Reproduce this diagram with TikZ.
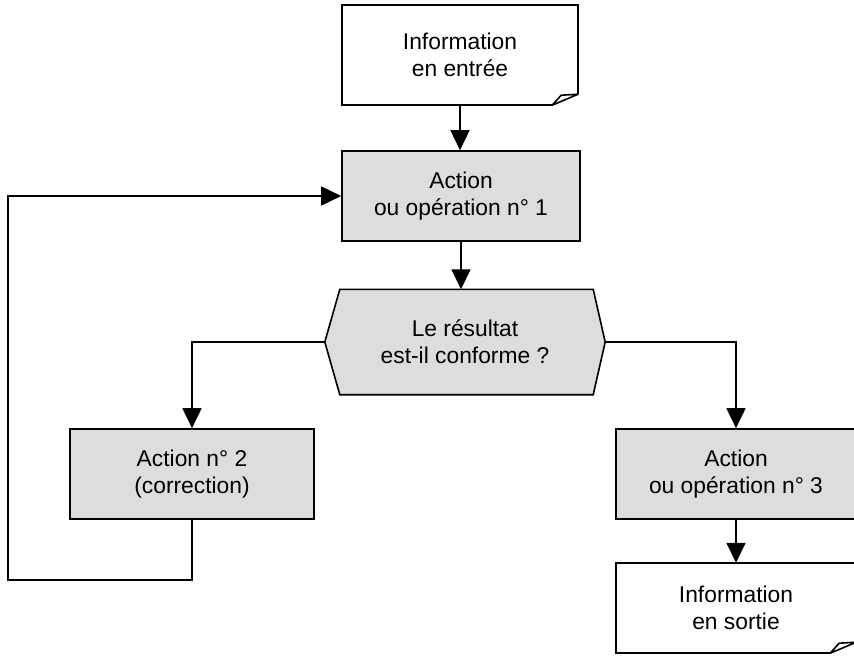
\documentclass[tikz,border=0pt]{standalone}
\usepackage{fontspec}
\setmainfont{Liberation Sans}
\usetikzlibrary{arrows.meta,calc,backgrounds}
\definecolor{boxgray}{RGB}{221,221,221}
\begin{document}
\begin{tikzpicture}[x=1pt,y=-1pt,
  every node/.style={font=\fontsize{22.8pt}{27pt}\selectfont, align=center, inner sep=0pt},
  actbox/.style={draw, line width=1.6pt, fill=boxgray, minimum width=240pt, minimum height=90pt},
  docbox/.style={minimum width=236pt, minimum height=100pt},
  hexbox/.style={minimum width=280pt, minimum height=105pt},
  outline/.style={line width=1.6pt},
  link/.style={line width=1.6pt, -{Triangle[length=20pt,width=19pt]}}]
\useasboundingbox (0,0) rectangle (854,664);

% nodes
\node[docbox] (in) at (460,55) {Information\\en entrée};
\node[actbox, minimum width=238pt] (a1) at (461,196) {Action\\ou opération n° 1};
\node[hexbox] (test) at (465,342) {Le résultat\\est-il conforme ?};
\node[actbox, minimum width=244pt] (a2) at (192,474) {Action n° 2\\(correction)};
\node[actbox] (a3) at (736,474) {Action\\ou opération n° 3};
\node[docbox, minimum width=240pt, minimum height=90pt] (out) at (736,608) {Information\\en sortie};

% outlines drawn behind the texts
\begin{scope}[on background layer]
  % document shapes with a curled lower right corner
  \foreach \d in {in,out}{
    \fill[white] (\d.north west) -- (\d.north east) -- ($(\d.south east)+(0,-11)$)
      -- ($(\d.south east)+(-26,0)$) -- (\d.south west) -- cycle;
    \draw[outline] ($(\d.south east)+(0,-11)$) -- (\d.north east) -- (\d.north west)
      -- (\d.south west) -- ($(\d.south east)+(-26,0)$);
    \draw[outline, line join=round] ($(\d.south east)+(-26,0)$) -- ($(\d.south east)+(-17,-10)$)
      -- ($(\d.south east)+(0,-11)$) -- cycle;
  }
  % decision hexagon
  \draw[outline, fill=boxgray] (test.west) -- ($(test.north west)+(15,0)$)
    -- ($(test.north east)+(-12,0)$) -- (test.east) -- ($(test.south east)+(-12,0)$)
    -- ($(test.south west)+(15,0)$) -- cycle;
\end{scope}

% connectors
\coordinate (loopcorner) at (8,580);
\draw[link] (in.south) -- (in.south |- a1.north);
\draw[link] (a1.south) -- (a1.south |- test.north);
\draw[link] (test.west) -| (a2.north);
\draw[link] (test.east) -| (a3.north);
\draw[link] (a3.south) -- (out.north);
\draw[link] (a2.south) |- (loopcorner) |- (a1.west);
\end{tikzpicture}
\end{document}
